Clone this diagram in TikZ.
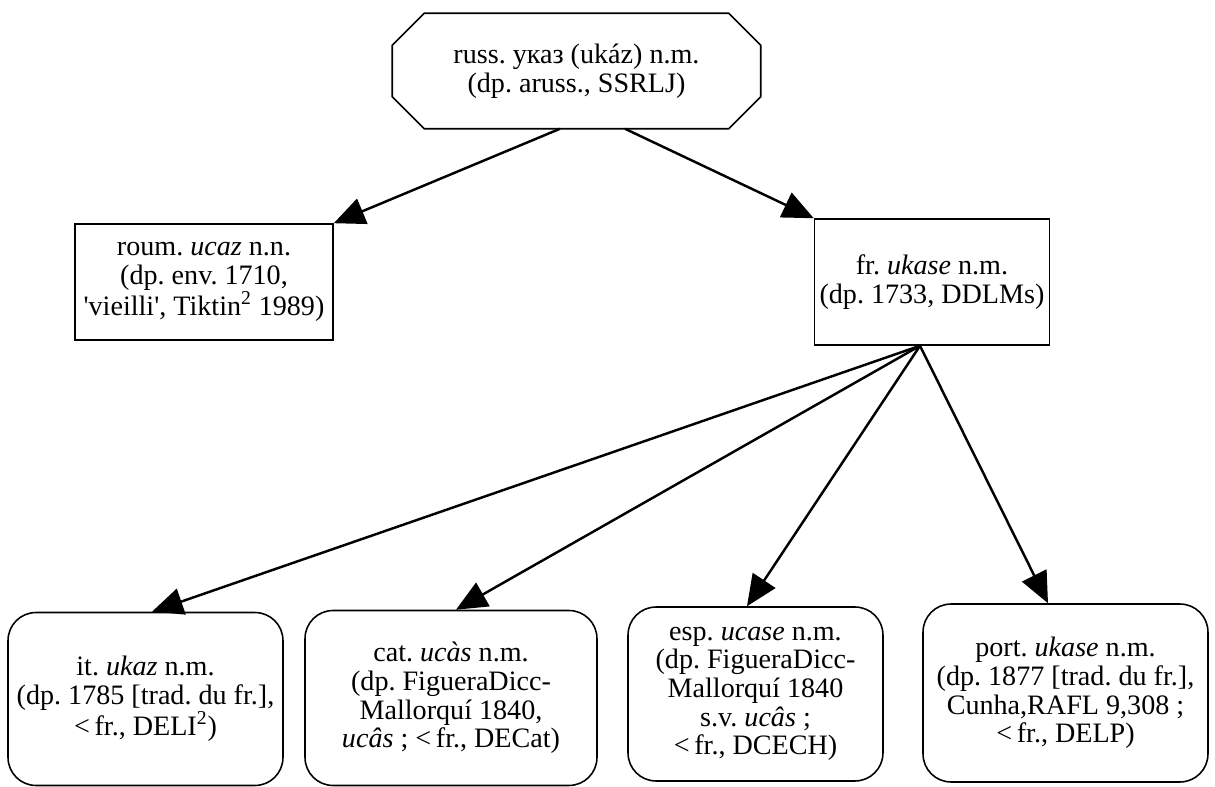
\documentclass[tikz,border=0pt]{standalone}
\usepackage{fontspec}
\setmainfont{Liberation Serif}[Ligatures=TeXOff]
\usetikzlibrary{arrows.meta}
\frenchspacing
\begin{document}
\begin{tikzpicture}[x=0.02cm, y=-0.02cm, >={Triangle[length=0.62cm,width=0.54cm]},
  every node/.style={align=center, inner sep=0pt, line width=0.9pt, font=\fontsize{16}{16.3}\selectfont},
  roundbox/.style={draw, rounded corners=0.56cm},
  arrowline/.style={->, line width=1.4pt}]
\useasboundingbox (0,0) rectangle (1215,787);
\node[minimum width=7.34cm, minimum height=2.28cm] (russ) at (576.5,71) {russ. указ (ukáz) n.m.\\(dp. aruss., SSRLJ)};
\draw[line width=0.9pt] ([xshift=0.64cm]russ.north west) -- ([xshift=-0.64cm]russ.north east) -- ([yshift=-0.64cm]russ.north east) -- ([yshift=0.64cm]russ.south east) -- ([xshift=-0.64cm]russ.south east) -- ([xshift=0.64cm]russ.south west) -- ([yshift=0.64cm]russ.south west) -- ([yshift=-0.64cm]russ.north west) -- cycle;
\node[draw, rectangle, minimum width=5.16cm, minimum height=2.32cm] (roum) at (204,282) {roum. \textit{ucaz} n.n.\\(dp. env. 1710,\\'vieilli', Tiktin\textsuperscript{2} 1989)};
\node[draw, rectangle, minimum width=4.7cm, minimum height=2.52cm] (fr) at (932,282) {fr. \textit{ukase} n.m.\\(dp. 1733, DDLMs)};
\node[roundbox, minimum width=5.5cm, minimum height=3.46cm] (it) at (145.5,699) {it. \textit{ukaz} n.m.\\(dp. 1785 [trad. du fr.],\\<\,fr., DELI\textsuperscript{2})};
\node[roundbox, minimum width=5.84cm, minimum height=3.5cm] (cat) at (451,698) {cat. \textit{ucàs} n.m.\\(dp. FigueraDicc-\\Mallorquí 1840,\\\textit{ucâs} ; <\,fr., DECat)};
\node[roundbox, minimum width=5.1cm, minimum height=3.48cm] (esp) at (755.5,694) {esp. \textit{ucase} n.m.\\(dp. FigueraDicc-\\Mallorquí 1840\\s.v. \textit{ucâs} ;\\<\,fr., DCECH)};
\node[roundbox, minimum width=5.7cm, minimum height=3.56cm] (port) at (1065.5,693) {port. \textit{ukase} n.m.\\(dp. 1877 [trad. du fr.],\\Cunha,RAFL 9,308 ;\\<\,fr., DELP)};

\draw[arrowline] ([xshift=-0.33cm]russ.south) -- (roum.north east);
\draw[arrowline] ([xshift=0.97cm]russ.south) -- (fr.north west);
\draw[arrowline] ([xshift=-0.24cm]fr.south) -- ([xshift=0.13cm]it.north);
\draw[arrowline] ([xshift=-0.24cm]fr.south) -- ([xshift=0.1cm]cat.north);
\draw[arrowline] ([xshift=-0.24cm]fr.south) -- ([xshift=-0.17cm]esp.north);
\draw[arrowline] ([xshift=-0.24cm]fr.south) -- ([xshift=-0.35cm]port.north);
\end{tikzpicture}
\end{document}
